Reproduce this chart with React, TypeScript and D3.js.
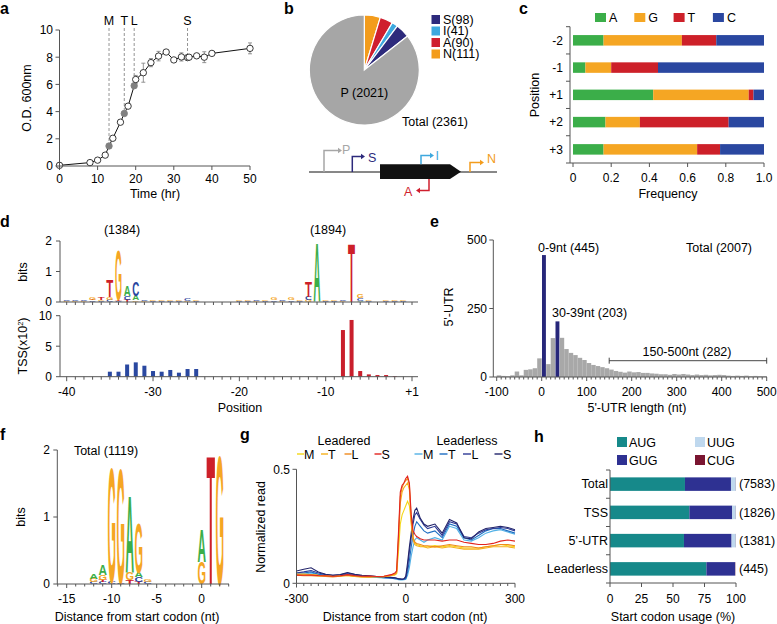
import * as d3 from "d3";

const FONT = "Arial, 'Liberation Sans', Helvetica, sans-serif";
const AX = "#555";
const TICK = 12;
const TITLE = 12.5;

// ---- a: growth curve
const timeHr = [0, 8, 10, 12, 13, 14, 16, 17, 18, 19.6, 20, 22, 24, 26, 28, 30, 32, 33.6, 34, 36, 38, 40, 50];
const odValue = [0.05, 0.25, 0.43, 0.8, 1.47, 2.04, 3.22, 3.86, 4.4, 5.9, 6.36, 6.86, 7.6, 8.08, 8.38, 7.8, 8.02, 7.97, 8.0, 8.1, 8.0, 8.28, 8.65];
const odError = [0, 0, 0, 0, 0, 0, 0, 0, 0, 0, 0.3, 0.7, 0.3, 0.35, 0.1, 0.1, 0.3, 0.1, 0.1, 0.1, 0.4, 0.1, 0.4];
const phaseLabels = ["M", "T", "L", "S"];
const phaseTimes = [13, 17, 19.6, 33.6];
const phaseOD = [1.47, 3.86, 5.9, 7.97];

// ---- b: TSS classes
const tssClasses = ["N", "A", "I", "S", "P"];
const tssClassCounts = [111, 90, 41, 98, 2021];
const legendClasses = ["S", "I", "A", "N"];

// ---- c: nucleotide frequency
const positionsC = ["-2", "-1", "+1", "+2", "+3"];
const nucleotides = ["A", "G", "T", "C"];
const freqA = [0.16, 0.065, 0.42, 0.17, 0.16];
const freqG = [0.41, 0.135, 0.5, 0.18, 0.49];
const freqT = [0.18, 0.245, 0.025, 0.465, 0.12];
const freqC = [0.25, 0.555, 0.055, 0.185, 0.23];

// ---- d: promoter logo + TSS counts
type Stack = [number, [string, number][]];
const logoD: Stack[] = [
  [-40, [["G", 0.03], ["C", 0.03]]], [-39, [["G", 0.04], ["C", 0.05]]], [-38, [["G", 0.03], ["C", 0.03]]],
  [-37, [["C", 0.05], ["T", 0.03], ["G", 0.06]]], [-36, [["C", 0.04], ["G", 0.04], ["T", 0.07]]],
  [-35, [["C", 0.06], ["G", 0.1], ["T", 0.55]]], [-34, [["C", 0.03], ["T", 0.03], ["G", 1.65]]],
  [-33, [["T", 0.06], ["C", 0.13], ["A", 0.36]]], [-32, [["G", 0.05], ["A", 0.15], ["C", 0.48]]],
  [-31, [["G", 0.02], ["C", 0.02]]], [-30, [["C", 0.03], ["G", 0.04]]], [-29, [["C", 0.02], ["G", 0.02]]],
  [-28, [["C", 0.03], ["G", 0.05]]], [-27, [["C", 0.03], ["G", 0.04]]], [-26, [["G", 0.03], ["C", 0.06]]],
  [-25, [["C", 0.03], ["G", 0.04]]], [-20, [["C", 0.03], ["G", 0.03]]], [-19, [["C", 0.03], ["G", 0.03]]],
  [-18, [["G", 0.02], ["C", 0.03]]], [-17, [["C", 0.02], ["G", 0.02]]], [-16, [["C", 0.05], ["G", 0.08]]],
  [-15, [["G", 0.03], ["C", 0.03]]], [-14, [["C", 0.05], ["G", 0.09]]], [-13, [["C", 0.03], ["G", 0.05]]],
  [-12, [["G", 0.06], ["C", 0.12], ["T", 0.5]]], [-11, [["A", 1.97]]], [-10, [["C", 0.03], ["G", 0.02]]],
  [-9, [["C", 0.03], ["G", 0.03]]], [-8, [["G", 0.03], ["C", 0.05]]], [-7, [["T", 1.97]]],
  [-6, [["A", 0.04], ["C", 0.09], ["G", 0.12]]], [-5, [["C", 0.03], ["G", 0.05]]],
  [-3, [["C", 0.02], ["G", 0.03]]], [-2, [["C", 0.02], ["G", 0.03]]], [-1, [["C", 0.03], ["G", 0.04]]],
];
const tssPos = [-35, -34, -33, -32, -31, -30, -29, -28, -27, -26, -25, -8, -7, -6, -5, -4, -3, -2];
const tssCount = [0.82, 0.82, 2.0, 2.35, 1.8, 0.93, 0.82, 1.1, 0.66, 1.26, 1.26, 7.65, 9.3, 0.93, 0.38, 0.27, 0.27, 0.1];

// ---- e: 5'-UTR length histogram (bins of 10 nt from -100)
const utrCounts = [
  6, 4, 3, 6, 20, 6, 26, 28, 32, 68,
  445, 47, 142, 203, 143, 102, 88, 80, 70, 62,
  51, 44, 40, 36, 32, 27, 22, 19, 16, 20,
  17, 18, 15, 15, 13, 12, 10, 10, 8, 11,
  9, 11, 9, 7, 9, 7, 8, 6, 7, 8,
  7, 5, 4, 5, 4, 5, 3, 4, 3, 3,
];
const utrHighlight = [0, 30];

// ---- f: SD logo
const logoF: Stack[] = [
  [-12, [["C", 0.03], ["G", 0.05], ["A", 0.07]]],
  [-11, [["C", 0.03], ["T", 0.03], ["G", 0.07], ["A", 0.15]]],
  [-10, [["C", 0.03], ["G", 1.75]]],
  [-9, [["C", 0.02], ["G", 1.75]]],
  [-8, [["T", 0.06], ["G", 0.12], ["A", 1.17]]],
  [-7, [["T", 0.03], ["C", 0.07], ["A", 0.07], ["G", 0.75]]],
  [-6, [["C", 0.03], ["G", 0.04]]],
  [0, [["G", 0.33], ["A", 0.5]]],
  [1, [["T", 1.97]]],
  [2, [["G", 1.97]]],
];

// ---- g: normalized read profiles
const gX = [-300, -280, -260, -240, -220, -200, -180, -160, -140, -120, -100, -80, -60, -40, -30, -25, -20, -15, -10, -5, 0, 5, 10, 15, 20, 25, 30, 40, 50, 60, 80, 100, 120, 140, 160, 180, 200, 220, 240, 260, 280, 300];
const leaderedM = [.04, .04, .038, .035, .033, .03, .032, .034, .03, .028, .028, .03, .029, .034, .036, .042, .14, .26, .30, .32, .34, .36, .34, .27, .2, .18, .17, .165, .16, .16, .165, .16, .165, .16, .155, .155, .155, .16, .165, .17, .165, .16];
const leaderedT = [.04, .04, .038, .035, .033, .03, .032, .034, .03, .028, .028, .03, .029, .034, .038, .045, .18, .35, .40, .42, .43, .44, .41, .26, .19, .17, .165, .16, .16, .155, .16, .155, .16, .155, .15, .15, .15, .155, .16, .16, .16, .155];
const leaderedL = [.036, .033, .033, .031, .03, .028, .031, .036, .031, .029, .028, .03, .031, .036, .042, .05, .2, .38, .42, .44, .45, .46, .43, .28, .2, .18, .175, .17, .165, .165, .16, .165, .17, .165, .16, .16, .155, .16, .165, .17, .17, .165];
const leaderedS = [.036, .035, .036, .034, .033, .031, .033, .038, .034, .031, .032, .03, .031, .038, .045, .055, .22, .40, .43, .44, .46, .47, .44, .30, .23, .215, .205, .195, .19, .19, .19, .185, .19, .19, .18, .175, .17, .17, .175, .185, .19, .185];
const leaderlessM = [.04, .04, .045, .038, .033, .03, .033, .038, .033, .03, .028, .026, .024, .022, .02, .018, .016, .015, .015, .016, .018, .035, .07, .12, .16, .19, .2, .19, .18, .19, .2, .19, .25, .24, .19, .185, .2, .22, .23, .235, .225, .215];
const leaderlessT = [.045, .045, .05, .04, .035, .032, .035, .04, .035, .03, .03, .028, .025, .022, .02, .02, .018, .017, .017, .018, .02, .05, .1, .16, .21, .25, .27, .25, .23, .22, .23, .2, .26, .25, .2, .19, .21, .23, .24, .24, .23, .22];
const leaderlessL = [.045, .05, .056, .045, .038, .035, .037, .045, .038, .033, .032, .03, .028, .025, .024, .022, .02, .018, .018, .02, .025, .07, .14, .2, .26, .3, .31, .28, .255, .24, .25, .21, .27, .26, .205, .2, .22, .235, .24, .245, .24, .23];
const leaderlessS = [.054, .062, .068, .05, .04, .035, .038, .047, .04, .035, .033, .03, .028, .026, .024, .022, .02, .02, .018, .02, .03, .09, .16, .22, .28, .32, .33, .285, .26, .25, .26, .22, .28, .265, .2, .195, .225, .24, .245, .25, .245, .235];
const phases = ["M", "T", "L", "S"];

// ---- h: start codon usage
const codonGroups = ["Total", "TSS", "5’-UTR", "Leaderless"];
const groupCounts = ["(7583)", "(1826)", "(1381)", "(445)"];
const codons = ["AUG", "GUG", "UUG", "CUG"];
const usageAUG = [59.5, 63, 58.7, 76.5];
const usageGUG = [36.5, 34, 37.8, 22.7];
const usageUUG = [3.9, 2.9, 3.4, 0.3];
const usageCUG = [0.1, 0.1, 0.1, 0.2];

const nucColor: Record<string, string> = { A: "#3BAE49", C: "#2A47A0", G: "#F5A623", T: "#CD2029" };
const classColor: Record<string, string> = { P: "#A6A6A6", S: "#2D2A7C", I: "#3EA8DE", A: "#CF1F2E", N: "#F39C1C" };
const leaderedColors = ["#F4D715", "#F6B01C", "#F08A1D", "#E2231E"];
const leaderlessColors = ["#52B1E6", "#1E6EC2", "#2E3A95", "#22246B"];
const codonColor: Record<string, string> = { AUG: "#16898A", GUG: "#2E3192", UUG: "#BFD8EE", CUG: "#7A1531" };

const GLYPH_W: Record<string, number> = { A: 72.2, C: 72.2, G: 77.8, T: 61.1 };

function Logo({ stacks, x, y, width }: { stacks: Stack[]; x: (p: number) => number; y: d3.ScaleLinear<number, number>; width: number }) {
  const out: JSX.Element[] = [];
  stacks.forEach(([pos, letters]) => {
    let acc = 0;
    letters.forEach(([ch, h], j) => {
      const base = y(acc);
      const top = y(acc + h);
      acc += h;
      const hp = base - top;
      out.push(
        <text key={`${pos}-${j}`} fontFamily={FONT} fontWeight="bold" fontSize={100} fill={nucColor[ch]}
          transform={`translate(${x(pos) - width / 2},${base}) scale(${width / GLYPH_W[ch]},${hp / 71.6})`}>{ch}</text>
      );
    });
  });
  return <g>{out}</g>;
}

function Label({ x, y, text }: { x: number; y: number; text: string }) {
  return <text x={x} y={y} fontFamily={FONT} fontWeight="bold" fontSize={16}>{text}</text>;
}

function PanelA() {
  const x = d3.scaleLinear().domain([0, 50]).range([59.5, 250]);
  const y = d3.scaleLinear().domain([0, 10]).range([166, 30]);
  const line = d3.line<number>().x((_, i) => x(timeHr[i])).y((d) => y(d));
  return (
    <g fontFamily={FONT} fontSize={TICK}>
      <Label x={0} y={14} text="a" />
      {phaseLabels.map((l, i) => (
        <g key={l}>
          <line x1={x(phaseTimes[i])} x2={x(phaseTimes[i])} y1={28} y2={y(phaseOD[i]) - 3} stroke="#888" strokeDasharray="3,2" strokeWidth={0.9} />
          <text x={x(phaseTimes[i])} y={25} textAnchor="middle" fontSize={TITLE}>{l}</text>
        </g>
      ))}
      <path d={line(odValue) ?? ""} fill="none" stroke="#111" strokeWidth={1} />
      {odError.map((e, i) => e > 0 ? (
        <g key={i} stroke="#888" strokeWidth={0.9}>
          <line x1={x(timeHr[i])} x2={x(timeHr[i])} y1={y(odValue[i] - e)} y2={y(odValue[i] + e)} />
          <line x1={x(timeHr[i]) - 2} x2={x(timeHr[i]) + 2} y1={y(odValue[i] - e)} y2={y(odValue[i] - e)} />
          <line x1={x(timeHr[i]) - 2} x2={x(timeHr[i]) + 2} y1={y(odValue[i] + e)} y2={y(odValue[i] + e)} />
        </g>
      ) : null)}
      {odValue.map((v, i) => {
        const filled = phaseTimes.slice(0, 3).includes(timeHr[i]);
        return <circle key={i} cx={x(timeHr[i])} cy={y(v)} r={3.2} fill={filled ? "#808080" : "#fff"} stroke={filled ? "#808080" : "#222"} strokeWidth={0.9} />;
      })}
      <line x1={59.5} x2={250} y1={166} y2={166} stroke={AX} />
      <line x1={59.5} x2={59.5} y1={30} y2={166} stroke={AX} />
      {x.ticks(5).map((t) => (
        <g key={t}>
          <line x1={x(t)} x2={x(t)} y1={166} y2={170} stroke={AX} />
          <text x={x(t)} y={183} textAnchor="middle">{t}</text>
        </g>
      ))}
      {y.ticks(5).map((t) => (
        <g key={t}>
          <line x1={55.5} x2={59.5} y1={y(t)} y2={y(t)} stroke={AX} />
          <text x={53} y={y(t) + 4.3} textAnchor="end">{t}</text>
        </g>
      ))}
      <text transform="translate(31,98) rotate(-90)" textAnchor="middle" fontSize={TITLE}>O.D. 600nm</text>
      <text x={155} y={198} textAnchor="middle" fontSize={TITLE}>Time (hr)</text>
    </g>
  );
}

function PanelB() {
  const cx = 364.3, cy = 70, r = 55;
  const arcs = d3.pie<number>().sort(null)(tssClassCounts);
  const arc = d3.arc<d3.PieArcDatum<number>>().innerRadius(0).outerRadius(r);
  const bent = (x0: number, y0: number, y1: number, x1: number, color: string) => {
    const dir = x1 > x0 ? 1 : -1;
    return (
      <g>
        <path d={`M${x0},${y0}V${y1}H${x1}`} fill="none" stroke={color} strokeWidth={1.5} />
        <path d={`M${x1 + dir * 4},${y1}L${x1},${y1 - 2.8}L${x1},${y1 + 2.8}Z`} fill={color} />
      </g>
    );
  };
  return (
    <g fontFamily={FONT} fontSize={TITLE}>
      <Label x={284} y={14} text="b" />
      <g transform={`translate(${cx},${cy})`}>
        {arcs.map((a, i) => (
          <path key={tssClasses[i]} d={arc(a) ?? ""} fill={classColor[tssClasses[i]]} stroke="#fff" strokeWidth={1.2} />
        ))}
      </g>
      <text x={cx} y={97} textAnchor="middle">P (2021)</text>
      <text x={402} y={126}>Total (2361)</text>
      {legendClasses.map((c, i) => (
        <g key={c}>
          <rect x={431.5} y={15 + i * 11.5} width={8.5} height={9} fill={classColor[c]} />
          <text x={443} y={23.8 + i * 11.5}>{`${c}(${tssClassCounts[tssClasses.indexOf(c)]})`}</text>
        </g>
      ))}
      <line x1={309} x2={497} y1={172} y2={172} stroke="#111" strokeWidth={1} />
      <path d="M380,164.3H450L461,171.7L450,179H380Z" fill="#111" />
      {bent(324, 172, 150.5, 338, classColor.P)}
      <text x={342} y={154} fill={classColor.P}>P</text>
      {bent(352.3, 172, 156.5, 361, classColor.S)}
      <text x={368} y={162} fill={classColor.S}>S</text>
      {bent(421, 164.3, 155.5, 430, classColor.I)}
      <text x={435.5} y={160} fill={classColor.I}>I</text>
      {bent(470, 172, 162.5, 480, classColor.N)}
      <text x={487} y={163} fill={classColor.N}>N</text>
      {bent(429, 179, 190.5, 420, classColor.A)}
      <text x={404} y={196} fill={classColor.A}>A</text>
    </g>
  );
}

function PanelC() {
  const x = d3.scaleLinear().domain([0, 1]).range([573, 764]);
  const y = d3.scaleBand().domain(positionsC).range([26.7, 163]);
  const table = positionsC.map((p, i) => ({ p, A: freqA[i], G: freqG[i], T: freqT[i], C: freqC[i] }));
  const series = d3.stack<any>().keys(nucleotides)(table);
  const bh = 10.5;
  return (
    <g fontFamily={FONT} fontSize={TICK}>
      <Label x={519} y={14} text="c" />
      {nucleotides.map((n, i) => (
        <g key={n}>
          <rect x={595 + i * 39.3} y={13} width={11} height={9} fill={nucColor[n]} />
          <text x={609 + i * 39.3} y={22} fontSize={TITLE}>{n}</text>
        </g>
      ))}
      {series.map((s) => s.map((d, i) => (
        <rect key={s.key + i} x={x(d[0])} width={x(d[1]) - x(d[0])} y={(y(positionsC[i]) ?? 0) + y.bandwidth() / 2 - bh / 2} height={bh} fill={nucColor[s.key]} />
      )))}
      <line x1={570} x2={570} y1={26.7} y2={163} stroke={AX} />
      <line x1={570} x2={764} y1={163} y2={163} stroke={AX} />
      {[...positionsC.map((p) => y(p) ?? 0), 163].map((t, i) => (
        <line key={i} x1={566} x2={570} y1={t} y2={t} stroke={AX} />
      ))}
      {positionsC.map((p) => (
        <text key={p} x={563} y={(y(p) ?? 0) + y.bandwidth() / 2 + 4.3} textAnchor="end">{p}</text>
      ))}
      {x.ticks(5).map((t) => (
        <g key={t}>
          <line x1={x(t)} x2={x(t)} y1={163} y2={167} stroke={AX} />
          <text x={x(t)} y={182} textAnchor="middle">{t === 1 ? "1.0" : t}</text>
        </g>
      ))}
      <text transform="translate(539,95) rotate(-90)" textAnchor="middle" fontSize={TITLE}>Position</text>
      <text x={668} y={198} textAnchor="middle" fontSize={TITLE}>Frequency</text>
    </g>
  );
}

function PanelD() {
  const xs = d3.scaleLinear().domain([-40, 0]).range([66.7, 412]);
  const x = (p: number) => xs(p < 0 ? p : 0);
  const yT = d3.scaleLinear().domain([0, 2]).range([302, 241]);
  const yB = d3.scaleLinear().domain([0, 10]).range([376.7, 315.7]);
  const allPos = [...d3.range(-40, 0), 1];
  const majors = [-40, -30, -20, -10, 1];
  return (
    <g fontFamily={FONT} fontSize={TICK}>
      <Label x={0} y={227} text="d" />
      <text x={122} y={234} textAnchor="middle" fontSize={TITLE}>(1384)</text>
      <text x={328} y={234} textAnchor="middle" fontSize={TITLE}>(1894)</text>
      <Logo stacks={logoD} x={x} y={yT} width={7} />
      {tssPos.map((p, i) => (
        <rect key={p} x={x(p) - 2} width={4} y={yB(tssCount[i])} height={yB(0) - yB(tssCount[i])} fill={p < -20 ? "#2A48A0" : "#C91F2C"} />
      ))}
      {[yT, yB].map((ys, k) => (
        <g key={k}>
          <line x1={60} x2={60} y1={ys.range()[1]} y2={ys.range()[0]} stroke={AX} />
          <line x1={60} x2={418} y1={ys.range()[0]} y2={ys.range()[0]} stroke={AX} />
          {allPos.map((p) => (
            <line key={p} x1={x(p)} x2={x(p)} y1={ys.range()[0]} y2={ys.range()[0] + (k === 1 && majors.includes(p) ? 4.5 : 3)} stroke={AX} />
          ))}
        </g>
      ))}
      {[0, 1, 2].map((t) => (
        <g key={t}>
          <line x1={56} x2={60} y1={yT(t)} y2={yT(t)} stroke={AX} />
          <text x={52} y={yT(t) + 4.3} textAnchor="end">{t}</text>
        </g>
      ))}
      {[0, 5, 10].map((t) => (
        <g key={t}>
          <line x1={56} x2={60} y1={yB(t)} y2={yB(t)} stroke={AX} />
          <text x={52} y={yB(t) + 4.3} textAnchor="end">{t}</text>
        </g>
      ))}
      {majors.map((p) => (
        <text key={p} x={x(p)} y={396} textAnchor="middle">{p > 0 ? `+${p}` : p}</text>
      ))}
      <text transform="translate(27,272) rotate(-90)" textAnchor="middle" fontSize={TITLE}>bits</text>
      <text transform="translate(27,346) rotate(-90)" textAnchor="middle" fontSize={TITLE}>
        TSS(x10<tspan fontSize={7.5} dy={-4.5}>2</tspan><tspan dy={4.5}>)</tspan>
      </text>
      <text x={240} y={412} textAnchor="middle" fontSize={TITLE}>Position</text>
    </g>
  );
}

function PanelE() {
  const x = d3.scaleLinear().domain([-100, 500]).range([496.7, 766.7]);
  const y = d3.scaleLinear().domain([0, 500]).range([377, 240]);
  const binStarts = d3.range(-100, 500, 10);
  return (
    <g fontFamily={FONT} fontSize={TICK}>
      <Label x={430} y={227} text="e" />
      {utrCounts.map((c, i) => {
        const hl = utrHighlight.includes(binStarts[i]);
        return (
          <rect key={i} x={x(binStarts[i]) + (hl ? 0.3 : 0)} width={x(10) - x(0) - (hl ? 0.6 : 0)} y={y(c)} height={y(0) - y(c)} fill={hl ? "#27277A" : "#A8A8A8"} />
        );
      })}
      <line x1={493.3} x2={493.3} y1={240} y2={377} stroke={AX} />
      <line x1={493.3} x2={767} y1={377} y2={377} stroke={AX} />
      {d3.range(-100, 501, 10).map((t) => (
        <line key={t} x1={x(t)} x2={x(t)} y1={377} y2={t % 100 === 0 ? 381 : 379.5} stroke={AX} />
      ))}
      {x.ticks(6).map((t) => (
        <text key={t} x={x(t)} y={396} textAnchor="middle">{t}</text>
      ))}
      {[0, 250, 500].map((t) => (
        <g key={t}>
          <line x1={489.3} x2={493.3} y1={y(t)} y2={y(t)} stroke={AX} />
          <text x={487} y={y(t) + 4.3} textAnchor="end">{t}</text>
        </g>
      ))}
      <g fontSize={TITLE}>
        <text x={538} y={252}>0-9nt (445)</text>
        <text x={552} y={317}>30-39nt (203)</text>
        <text x={686} y={252}>Total (2007)</text>
        <text x={687} y={356} textAnchor="middle">150-500nt (282)</text>
      </g>
      <g stroke="#333" strokeWidth={0.9}>
        <line x1={x(150)} x2={x(500)} y1={360.7} y2={360.7} />
        <line x1={x(150)} x2={x(150)} y1={357.7} y2={363.7} />
        <line x1={x(500)} x2={x(500)} y1={357.7} y2={363.7} />
      </g>
      <text transform="translate(453,307) rotate(-90)" textAnchor="middle" fontSize={TITLE}>5'-UTR</text>
      <text x={637} y={412} textAnchor="middle" fontSize={TITLE}>5'-UTR length (nt)</text>
    </g>
  );
}

function PanelF() {
  const x = d3.scaleLinear().domain([-15, 0]).range([66.7, 201.7]);
  const y = d3.scaleLinear().domain([0, 2]).range([584, 450]);
  return (
    <g fontFamily={FONT} fontSize={TICK}>
      <Label x={0} y={440} text="f" />
      <text x={106} y={454.5} textAnchor="middle" fontSize={TITLE}>Total (1119)</text>
      <Logo stacks={logoF} x={(p) => x(p)} y={y} width={8.5} />
      <line x1={57.3} x2={57.3} y1={450} y2={584} stroke={AX} />
      <line x1={57.3} x2={229} y1={584} y2={584} stroke={AX} />
      {d3.range(-16, 4).map((t) => (
        <line key={t} x1={x(t)} x2={x(t)} y1={584} y2={t % 5 === 0 ? 588 : 586.5} stroke={AX} />
      ))}
      {[-15, -10, -5, 0].map((t) => (
        <text key={t} x={x(t)} y={603} textAnchor="middle">{t}</text>
      ))}
      {[0, 1, 2].map((t) => (
        <g key={t}>
          <line x1={53.3} x2={57.3} y1={y(t)} y2={y(t)} stroke={AX} />
          <text x={50} y={y(t) + 4.3} textAnchor="end">{t}</text>
        </g>
      ))}
      <text transform="translate(25,517) rotate(-90)" textAnchor="middle" fontSize={TITLE}>bits</text>
      <text x={137} y={621} textAnchor="middle" fontSize={TITLE}>Distance from start codon (nt)</text>
    </g>
  );
}

function PanelG() {
  const x = d3.scaleLinear().domain([-300, 300]).range([296.5, 515]);
  const y = d3.scaleLinear().domain([0, 0.5]).range([583.3, 469.3]);
  const line = d3.line<number>().x((_, i) => x(gX[i])).y((d) => y(d));
  const leadered = [leaderedM, leaderedT, leaderedL, leaderedS];
  const leaderless = [leaderlessM, leaderlessT, leaderlessL, leaderlessS];
  const legendLeft = [297, 321, 344.5, 374.5];
  const legendRight = [414.5, 439.5, 463, 494.5];
  return (
    <g fontFamily={FONT} fontSize={TICK}>
      <Label x={240} y={440} text="g" />
      <text x={344} y={445} textAnchor="middle" fontSize={TITLE}>Leadered</text>
      <text x={467} y={445} textAnchor="middle" fontSize={TITLE}>Leaderless</text>
      {phases.map((p, i) => (
        <g key={p}>
          <line x1={legendLeft[i]} x2={legendLeft[i] + 7} y1={454} y2={454} stroke={leaderedColors[i]} strokeWidth={1.4} />
          <text x={legendLeft[i] + 7} y={458.5} fontSize={TITLE}>{p}</text>
          <line x1={legendRight[i]} x2={legendRight[i] + 8} y1={454} y2={454} stroke={leaderlessColors[i]} strokeWidth={1.4} />
          <text x={legendRight[i] + 8.5} y={458.5} fontSize={TITLE}>{p}</text>
        </g>
      ))}
      {leaderless.map((s, i) => (
        <path key={"b" + i} d={line(s) ?? ""} fill="none" stroke={leaderlessColors[i]} strokeWidth={1.1} />
      ))}
      {leadered.map((s, i) => (
        <path key={"a" + i} d={line(s) ?? ""} fill="none" stroke={leaderedColors[i]} strokeWidth={1.1} />
      ))}
      <line x1={296.5} x2={296.5} y1={469.3} y2={583.3} stroke={AX} />
      <line x1={296.5} x2={515} y1={583.3} y2={583.3} stroke={AX} />
      {d3.range(-300, 301, 20).map((t) => (
        <line key={t} x1={x(t)} x2={x(t)} y1={583.3} y2={t % 300 === 0 ? 587.5 : 586} stroke={AX} />
      ))}
      {[-300, 0, 300].map((t) => (
        <text key={t} x={x(t)} y={603} textAnchor="middle">{t}</text>
      ))}
      {[0, 0.5].map((t) => (
        <g key={t}>
          <line x1={292.5} x2={296.5} y1={y(t)} y2={y(t)} stroke={AX} />
          <text x={290} y={y(t) + 4.3} textAnchor="end">{t}</text>
        </g>
      ))}
      <text transform="translate(265,527) rotate(-90)" textAnchor="middle" fontSize={TITLE}>Normalized read</text>
      <text x={405} y={621} textAnchor="middle" fontSize={TITLE}>Distance from start codon (nt)</text>
    </g>
  );
}

function PanelH() {
  const x = d3.scaleLinear().domain([0, 100]).range([610, 736]);
  const y = d3.scaleBand().domain(codonGroups).range([470, 583]);
  const table = codonGroups.map((g, i) => ({ g, AUG: usageAUG[i], GUG: usageGUG[i], UUG: usageUUG[i], CUG: usageCUG[i] }));
  const series = d3.stack<any>().keys(codons)(table);
  const bh = 13.5;
  const legendPos = [[617, 437], [617, 455], [695, 437], [695, 455]];
  return (
    <g fontFamily={FONT} fontSize={TITLE}>
      <Label x={534} y={442} text="h" />
      {codons.map((c, i) => (
        <g key={c}>
          <rect x={legendPos[i][0]} y={legendPos[i][1]} width={10} height={10} fill={codonColor[c]} />
          <text x={legendPos[i][0] + 12} y={legendPos[i][1] + 9.5}>{c}</text>
        </g>
      ))}
      {series.map((s) => s.map((d, i) => (
        <rect key={s.key + i} x={x(d[0])} width={x(d[1]) - x(d[0])} y={(y(codonGroups[i]) ?? 0) + y.bandwidth() / 2 - bh / 2} height={bh} fill={codonColor[s.key]} />
      )))}
      <line x1={610} x2={610} y1={470} y2={583} stroke={AX} />
      <line x1={610} x2={736} y1={583} y2={583} stroke={AX} />
      {[...codonGroups.map((g) => y(g) ?? 0), 583].map((t, i) => (
        <line key={i} x1={606} x2={610} y1={t} y2={t} stroke={AX} />
      ))}
      {codonGroups.map((g, i) => (
        <g key={g}>
          <text x={608} y={(y(g) ?? 0) + y.bandwidth() / 2 + 4.3} textAnchor="end">{g}</text>
          <text x={739} y={(y(g) ?? 0) + y.bandwidth() / 2 + 4.3}>{groupCounts[i]}</text>
        </g>
      ))}
      {[0, 25, 50, 75, 100].map((t) => (
        <g key={t}>
          <line x1={x(t)} x2={x(t)} y1={583} y2={587} stroke={AX} />
          <text x={x(t)} y={603} textAnchor="middle" fontSize={TICK}>{t}</text>
        </g>
      ))}
      <text x={673} y={621} textAnchor="middle">Start codon usage (%)</text>
    </g>
  );
}

export default function App() {
  return (
    <svg width={777} height={624} style={{ position: "absolute", left: 0, top: 0, background: "#fff" }}>
      <rect width={777} height={624} fill="#fff" />
      <PanelA />
      <PanelB />
      <PanelC />
      <PanelD />
      <PanelE />
      <PanelF />
      <PanelG />
      <PanelH />
    </svg>
  );
}
